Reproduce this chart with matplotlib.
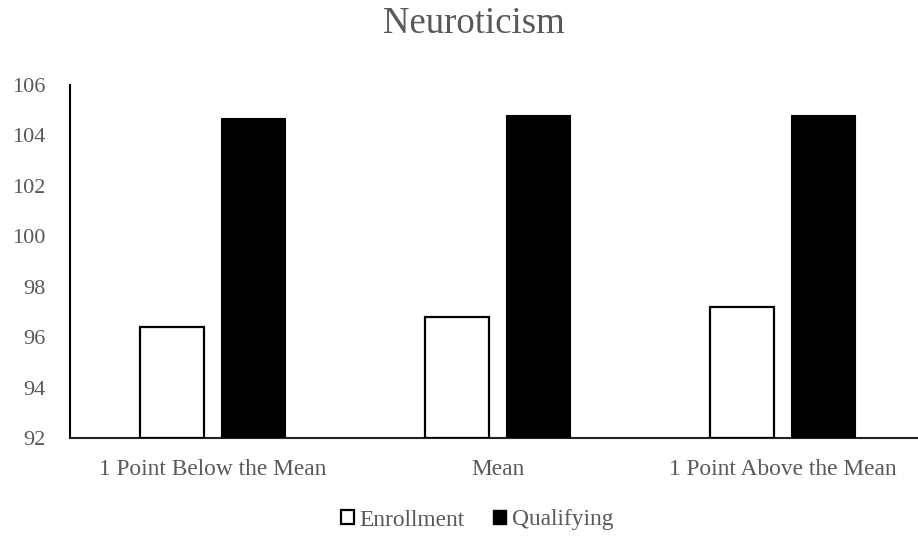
#! /usr/bin/env python
import numpy as np
import matplotlib.pyplot as plt
from matplotlib.patches import Patch

#-----------------------------data-------------------------------------------------
categories = ["1 Point Below the Mean", "Mean", "1 Point Above the Mean"]
enrollment = [96.4, 96.8, 97.2]
qualifying = [104.7, 104.8, 104.8]
series_names = ["Enrollment", "Qualifying"]
y_ticks = [92, 94, 96, 98, 100, 102, 104, 106]

#-----------------------------style------------------------------------------------
plt.rcParams['font.family'] = ['Liberation Serif', 'DejaVu Serif']
text_color = "#595959"

fig = plt.figure(figsize=(9.18, 5.37), dpi=100)
ax = fig.add_axes([70/918, 99/537, 855/918, 353/537])

x = np.arange(len(categories))
bar_w = 0.225
off = 0.143
ax.bar(x-off, np.array(enrollment)-92, bar_w, bottom=92, facecolor="white",
       edgecolor="black", linewidth=1.6, zorder=3)
ax.bar(x+off, np.array(qualifying)-92, bar_w, bottom=92, facecolor="black",
       edgecolor="black", linewidth=0.8, zorder=3)

ax.set_xlim(-0.5, 2.5)
ax.set_ylim(92, 106)
ax.set_yticks(y_ticks)
ax.set_xticks(x)
ax.set_xticklabels(categories)

ax.tick_params(axis='x', length=0, pad=15, labelsize=16.8, labelcolor=text_color)
ax.tick_params(axis='y', length=0, pad=18, labelsize=16, labelcolor=text_color)

for side in ["top", "right"]:
    ax.spines[side].set_visible(False)
ax.spines["left"].set_linewidth(1.5)
ax.spines["bottom"].set_linewidth(1.5)
ax.spines["left"].set_color("black")
ax.spines["bottom"].set_color("#222222")

fig.text(474/918, 1-33/537, "Neuroticism", ha="center", va="baseline",
         fontsize=26.5, color=text_color)

handles = [Patch(facecolor="white", edgecolor="black", linewidth=1.6),
           Patch(facecolor="black", edgecolor="black")]
leg = fig.legend(handles, series_names, loc="center", bbox_to_anchor=(477/918, 1-520/537),
                 ncol=2, frameon=False, fontsize=16.8, handlelength=0.55, handleheight=0.55,
                 handletextpad=0.25, columnspacing=1.2)
for t in leg.get_texts():
    t.set_color(text_color)

fig.savefig("out.png", dpi=100)
